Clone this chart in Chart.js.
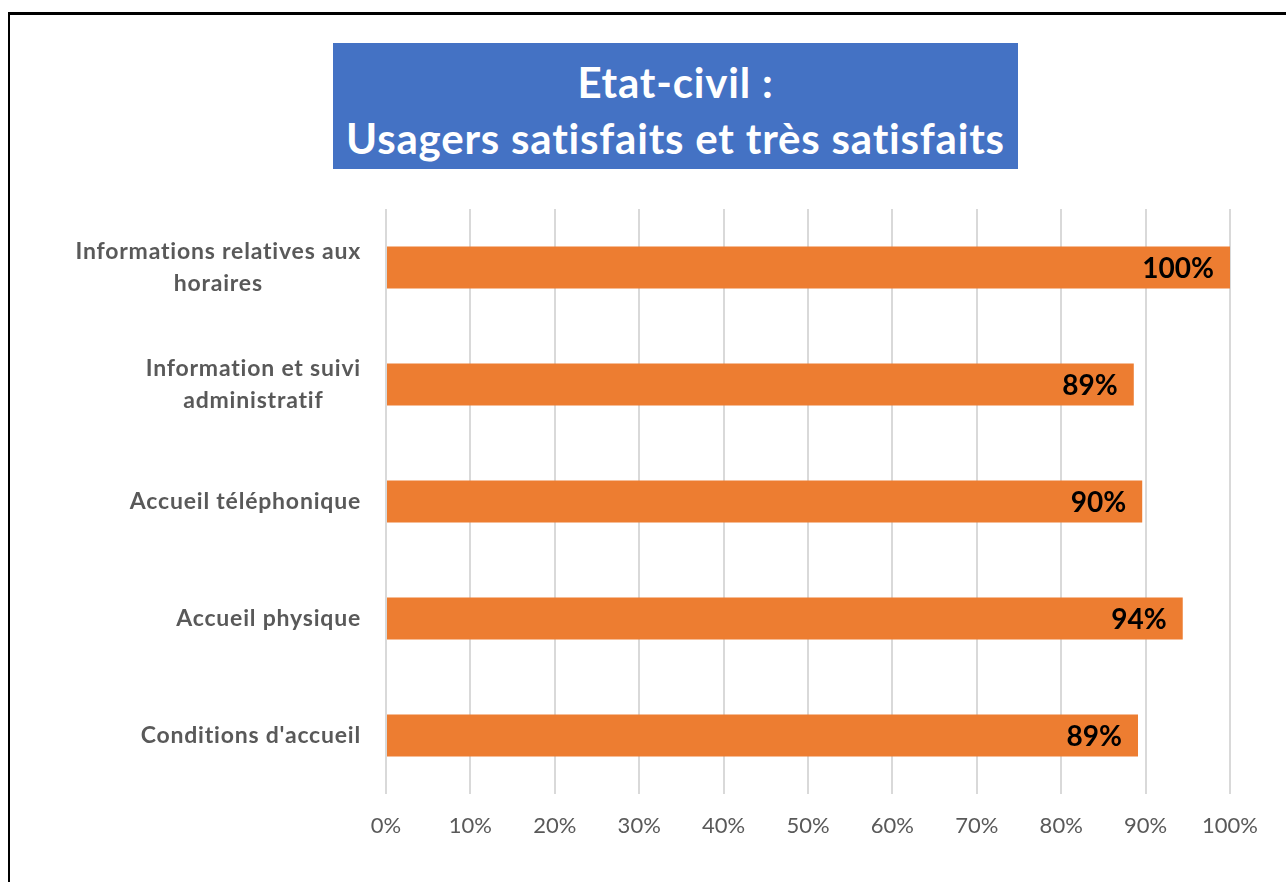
<!DOCTYPE html>
<html>
<head>
<meta charset="utf-8">
<script src="https://cdn.jsdelivr.net/npm/chart.js@4.4.0/dist/chart.umd.min.js"></script>
<style>
  html, body { margin: 0; padding: 0; background: #fff; overflow: hidden; }
  #wrap { position: relative; width: 1286px; height: 882px; }
  #frame { position: absolute; left: 8px; top: 12px; right: -10px; bottom: -10px;
           border-left: 2px solid #000; border-top: 3px solid #000; }
  #title { position: absolute; left: 333px; top: 43px; width: 685px; height: 126px;
           background: #4472c4; color: #fff; font-family: Lato, "Open Sans", sans-serif;
           font-weight: bold; font-size: 42px; line-height: 56px; text-align: center;
           letter-spacing: 0.8px; padding-top: 11px; box-sizing: border-box; }
  canvas { position: absolute; left: 0; top: 0; }
</style>
</head>
<body>
<div id="wrap">
  <div id="frame"></div>
  <canvas id="chart" width="1286" height="882"></canvas>
  <div id="title">Etat-civil :<br>Usagers satisfaits et très satisfaits</div>
</div>
<script>
const categories = [
  ["Informations relatives aux", "horaires"],
  ["Information et suivi", "administratif"],
  ["Accueil téléphonique"],
  ["Accueil physique"],
  ["Conditions d'accueil"]
];
const satisfied = [100, 88.6, 89.6, 94.4, 89.1];
const xTicks = [0, 10, 20, 30, 40, 50, 60, 70, 80, 90, 100];

const FONT = "Lato, 'Open Sans', sans-serif";

// category labels: right aligned block, lines centred inside it
const catLabels = {
  id: "catLabels",
  afterDraw(chart) {
    const ctx = chart.ctx;
    const y = chart.scales.y;
    ctx.save();
    ctx.font = "bold 23px " + FONT;
    ctx.letterSpacing = "0.8px";
    ctx.fillStyle = "#595959";
    ctx.textAlign = "center";
    ctx.textBaseline = "middle";
    categories.forEach((lines, i) => {
      const cy = y.getPixelForValue(i);
      const widest = Math.max(...lines.map(l => ctx.measureText(l).width));
      const cx = 361 - widest / 2;
      const lh = 32;
      lines.forEach((l, j) => {
        ctx.fillText(l, cx, cy + (j - (lines.length - 1) / 2) * lh);
      });
    });
    ctx.restore();
  }
};

const valueLabels = {
  id: "valueLabels",
  afterDatasetsDraw(chart) {
    const ctx = chart.ctx;
    const meta = chart.getDatasetMeta(0);
    ctx.save();
    ctx.font = "bold 28px " + FONT;
    ctx.fillStyle = "#000";
    ctx.textAlign = "right";
    ctx.textBaseline = "middle";
    meta.data.forEach((bar, i) => {
      ctx.fillText(Math.round(satisfied[i]) + "%", bar.x - 16, bar.y + 1);
    });
    ctx.restore();
  }
};

new Chart(document.getElementById("chart").getContext("2d"), {
  type: "bar",
  data: {
    labels: categories.map(c => c.join(" ")),
    datasets: [{
      data: satisfied,
      backgroundColor: "#ed7d31",
      borderWidth: 0,
      barPercentage: 0.36,
      categoryPercentage: 1
    }]
  },
  options: {
    indexAxis: "y",
    responsive: false,
    animation: false,
    layout: { padding: { left: 386, top: 209, right: 56, bottom: 0 } },
    plugins: { legend: { display: false }, tooltip: { enabled: false }, title: { display: false } },
    scales: {
      y: { display: false },
      x: {
        min: 0, max: 100,
        afterBuildTicks: s => { s.ticks = xTicks.map(v => ({ value: v })); },
        afterFit: s => { s.height = 88; },
        grid: { color: "#d9d9d9", lineWidth: 2, drawTicks: false },
        border: { display: false },
        ticks: {
          padding: 19,
          color: "#595959",
          font: { family: FONT, size: 22 },
          callback: v => v + "%"
        }
      }
    }
  },
  plugins: [catLabels, valueLabels]
});
</script>
</body>
</html>
